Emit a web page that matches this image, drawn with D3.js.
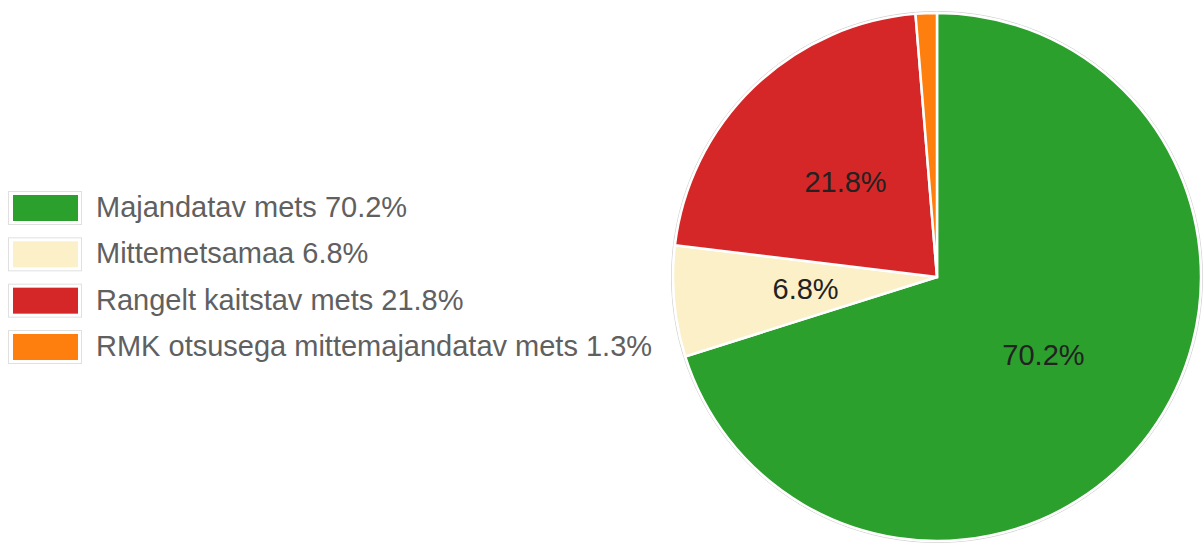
<!DOCTYPE html>
<html>
<head>
  <meta charset="UTF-8">
  <title>Metsamaa jaotus</title>
  <script src="https://d3js.org/d3.v7.min.js"></script>
  <style>
    body { margin: 0; background: #fff; }
    text { font-family: Arial, "Liberation Sans", sans-serif; }
  </style>
</head>
<body>
  <script>
    // data
    var categories = ["Majandatav mets", "Mittemetsamaa", "Rangelt kaitstav mets", "RMK otsusega mittemajandatav mets"];
    var values = [70.2, 6.8, 21.8, 1.3];
    var colors = ["#2ca02c", "#fcf0c8", "#d62728", "#ff7f0e"];

    var width = 1204, height = 543;
    var cx = 937, cy = 277, radius = 264;

    var svg = d3.select("body")
      .append("svg")
      .attr("width", width)
      .attr("height", height);

    var data = categories.map(function (c, i) {
      return { name: c, value: values[i], color: colors[i] };
    });

    var pie = d3.pie().sort(null).value(function (d) { return d.value; });
    var arc = d3.arc().innerRadius(0).outerRadius(radius);
    var arcs = pie(data);

    var g = svg.append("g")
      .attr("transform", "translate(" + cx + "," + cy + ")");

    // faint outer ring
    g.append("circle")
      .attr("r", radius + 1.5)
      .attr("fill", "none")
      .attr("stroke", "#d4d4d4")
      .attr("stroke-width", 1);

    g.selectAll("path")
      .data(arcs)
      .enter()
      .append("path")
      .attr("d", arc)
      .attr("fill", function (d) { return d.data.color; })
      .attr("stroke", "#fff")
      .attr("stroke-width", 2.5);

    g.selectAll("text.lbl")
      .data(arcs.filter(function (d) { return d.data.value >= 5; }))
      .enter()
      .append("text")
      .attr("class", "lbl")
      .attr("transform", function (d) { return "translate(" + arc.centroid(d) + ")"; })
      .attr("dy", "0.35em")
      .attr("text-anchor", "middle")
      .attr("font-size", 29)
      .attr("fill", "#222")
      .text(function (d) { return d.data.value.toFixed(1) + "%"; });

    // legend
    var rowY = d3.scalePoint()
      .domain(categories)
      .range([208, 347]);

    var legend = svg.selectAll("g.legend")
      .data(data)
      .enter()
      .append("g")
      .attr("class", "legend")
      .attr("transform", function (d) { return "translate(0," + rowY(d.name) + ")"; });

    legend.append("rect")
      .attr("x", 8.5)
      .attr("y", -16.5)
      .attr("width", 73)
      .attr("height", 33)
      .attr("fill", "#fff")
      .attr("stroke", "#e0e0e0");

    legend.append("rect")
      .attr("x", 13)
      .attr("y", -13)
      .attr("width", 65)
      .attr("height", 26)
      .attr("fill", function (d) { return d.color; });

    legend.append("text")
      .attr("x", 96)
      .attr("dy", "0.31em")
      .attr("font-size", 29)
      .attr("fill", "#606060")
      .text(function (d) { return d.name + " " + d.value.toFixed(1) + "%"; });
  </script>
</body>
</html>
